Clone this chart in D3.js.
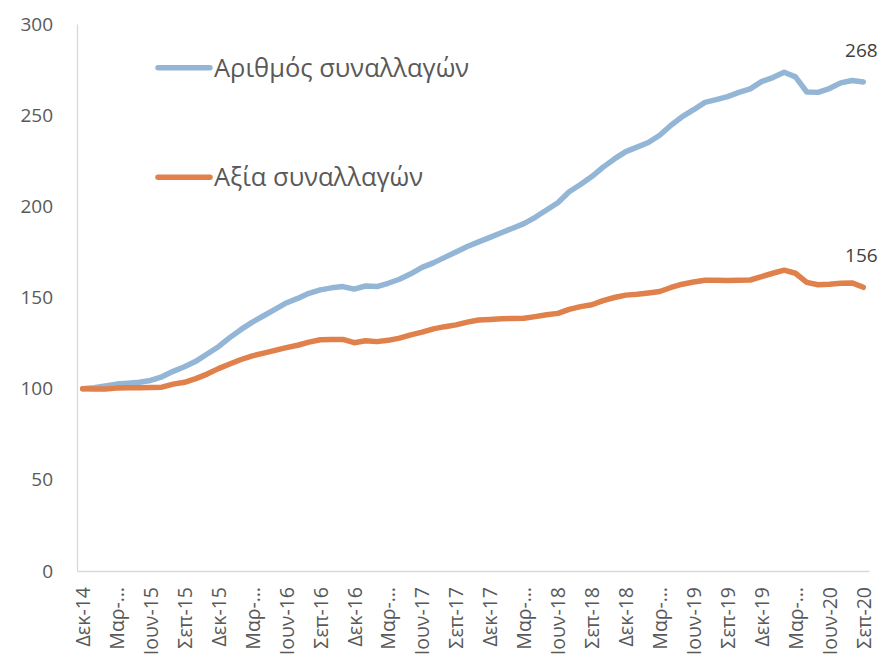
<!DOCTYPE html>
<html>
<head>
<meta charset="utf-8">
<script src="https://cdn.jsdelivr.net/npm/d3@7"></script>
<style>
  html, body { margin: 0; padding: 0; background: #fff; }
  svg { display: block; }
  text { font-family: "Open Sans", "Noto Sans", sans-serif; }
</style>
</head>
<body>
<svg id="chart" width="884" height="655"></svg>
<script>
// ---- Data ----
const categories = [
  "Δεκ-14",
  "Ιαν-15","Φεβ-15","Μαρ-15","Απρ-15","Μαϊ-15","Ιουν-15","Ιουλ-15","Αυγ-15","Σεπ-15","Οκτ-15","Νοε-15","Δεκ-15",
  "Ιαν-16","Φεβ-16","Μαρ-16","Απρ-16","Μαϊ-16","Ιουν-16","Ιουλ-16","Αυγ-16","Σεπ-16","Οκτ-16","Νοε-16","Δεκ-16",
  "Ιαν-17","Φεβ-17","Μαρ-17","Απρ-17","Μαϊ-17","Ιουν-17","Ιουλ-17","Αυγ-17","Σεπ-17","Οκτ-17","Νοε-17","Δεκ-17",
  "Ιαν-18","Φεβ-18","Μαρ-18","Απρ-18","Μαϊ-18","Ιουν-18","Ιουλ-18","Αυγ-18","Σεπ-18","Οκτ-18","Νοε-18","Δεκ-18",
  "Ιαν-19","Φεβ-19","Μαρ-19","Απρ-19","Μαϊ-19","Ιουν-19","Ιουλ-19","Αυγ-19","Σεπ-19","Οκτ-19","Νοε-19","Δεκ-19",
  "Ιαν-20","Φεβ-20","Μαρ-20","Απρ-20","Μαϊ-20","Ιουν-20","Ιουλ-20","Αυγ-20","Σεπ-20"
];
// Tick labels shown (every third month), as displayed in the reference
const tickCategories = [
  "Δεκ-14","Μαρ-15","Ιουν-15","Σεπ-15","Δεκ-15","Μαρ-16","Ιουν-16","Σεπ-16","Δεκ-16",
  "Μαρ-17","Ιουν-17","Σεπ-17","Δεκ-17","Μαρ-18","Ιουν-18","Σεπ-18","Δεκ-18",
  "Μαρ-19","Ιουν-19","Σεπ-19","Δεκ-19","Μαρ-20","Ιουν-20","Σεπ-20"
];
const tickLabels = [
  "Δεκ-14","Μαρ-…","Ιουν-15","Σεπ-15","Δεκ-15","Μαρ-…","Ιουν-16","Σεπ-16","Δεκ-16",
  "Μαρ-…","Ιουν-17","Σεπ-17","Δεκ-17","Μαρ-…","Ιουν-18","Σεπ-18","Δεκ-18",
  "Μαρ-…","Ιουν-19","Σεπ-19","Δεκ-19","Μαρ-…","Ιουν-20","Σεπ-20"
];
const yTicks = [0, 50, 100, 150, 200, 250, 300];

const seriesNames = ["Αριθμός συναλλαγών", "Αξία συναλλαγών"];
const countValues = [
  100, 100.5, 101.5, 102.5, 103, 103.5, 104.5, 106.5, 109.5, 112, 115, 119, 123,
  128, 132.5, 136.5, 140, 143.5, 147, 149.5, 152.3, 154.2, 155.3, 156, 154.6,
  156.3, 156, 157.8, 160, 163, 166.5, 169, 172, 175, 178, 180.5, 183,
  185.5, 188, 190.5, 194, 198, 202, 208, 212, 216.3, 221.5, 226, 230,
  232.5, 235, 239, 244.5, 249.2, 253, 257, 258.5, 260.2, 262.5, 264.4, 268.4,
  270.6, 273.5, 271, 262.7, 262.5, 264.6, 267.7, 269, 268.2
];
const valueValues = [
  100, 99.8, 99.8, 100.3, 100.5, 100.5, 100.7, 100.8, 102.5, 103.5, 105.5, 108, 111,
  113.5, 116, 118, 119.5, 121, 122.5, 123.8, 125.5, 126.8, 127, 127, 125.2,
  126.3, 125.8, 126.5, 127.7, 129.5, 131, 132.8, 134, 135, 136.5, 137.7, 138,
  138.3, 138.5, 138.6, 139.5, 140.5, 141.3, 143.5, 145, 146, 148.3, 150, 151.3,
  151.8, 152.5, 153.3, 155.5, 157.3, 158.5, 159.5, 159.4, 159.3, 159.4, 159.6, 161.5,
  163.3, 165, 163.3, 158.3, 157, 157.3, 157.8, 158, 155.6
];
const endLabels = ["268", "156"];
const colors = ["#94b6d6", "#e0804a"];

// ---- Layout ----
const svg = d3.select("#chart");
const margin = { left: 77, right: 15, top: 24, bottom: 84 };
const W = 884, H = 655;
const x = d3.scalePoint().domain(categories).range([margin.left, W - margin.right]).padding(0.5);
const y = d3.scaleLinear().domain([0, 300]).range([H - margin.bottom, margin.top]);

// Axes
const yAxis = d3.axisLeft(y).tickValues(yTicks).tickSize(0).tickPadding(24);
const gy = svg.append("g").attr("transform", `translate(${margin.left},0)`).call(yAxis);
gy.select(".domain").attr("stroke", "#dcd8d4").attr("stroke-width", 1.3);
gy.selectAll("text").attr("font-size", 19).attr("fill", "#595959");

const labelMap = new Map(tickCategories.map((c, i) => [c, tickLabels[i]]));
const xAxis = d3.axisBottom(x).tickValues(tickCategories).tickSize(0).tickFormat(d => labelMap.get(d));
const gx = svg.append("g").attr("transform", `translate(0,${H - margin.bottom})`).call(xAxis);
gx.select(".domain").attr("stroke", "#d9d9d9").attr("stroke-width", 1.3);
gx.selectAll("text")
  .attr("font-size", 19.5).attr("fill", "#595959")
  .attr("transform", "rotate(-90)")
  .attr("text-anchor", "end")
  .attr("x", -16).attr("y", 0).attr("dy", "0.35em");

// Lines
const line = d3.line().x((d, i) => x(categories[i])).y(d => y(d));
const allSeries = [countValues, valueValues];
allSeries.forEach((vals, k) => {
  svg.append("path").datum(vals)
    .attr("fill", "none").attr("stroke", colors[k]).attr("stroke-width", 5.5)
    .attr("stroke-linejoin", "round").attr("stroke-linecap", "round")
    .attr("d", line);
});

// End labels
allSeries.forEach((vals, k) => {
  const last = vals.length - 1;
  svg.append("text")
    .attr("x", x(categories[last]) - 2).attr("y", y(vals[last]) - 25)
    .attr("text-anchor", "middle").attr("font-size", 19).attr("fill", "#404040")
    .text(endLabels[k]);
});

// Legend
const legendY = [y(276), y(216)];
seriesNames.forEach((name, k) => {
  svg.append("line")
    .attr("x1", 158).attr("x2", 210).attr("y1", legendY[k]).attr("y2", legendY[k])
    .attr("stroke", colors[k]).attr("stroke-width", 5.5).attr("stroke-linecap", "round");
  svg.append("text")
    .attr("x", 214).attr("y", legendY[k]).attr("dy", "0.35em")
    .attr("font-size", 25.5).attr("fill", "#595959")
    .text(name);
});
</script>
</body>
</html>
